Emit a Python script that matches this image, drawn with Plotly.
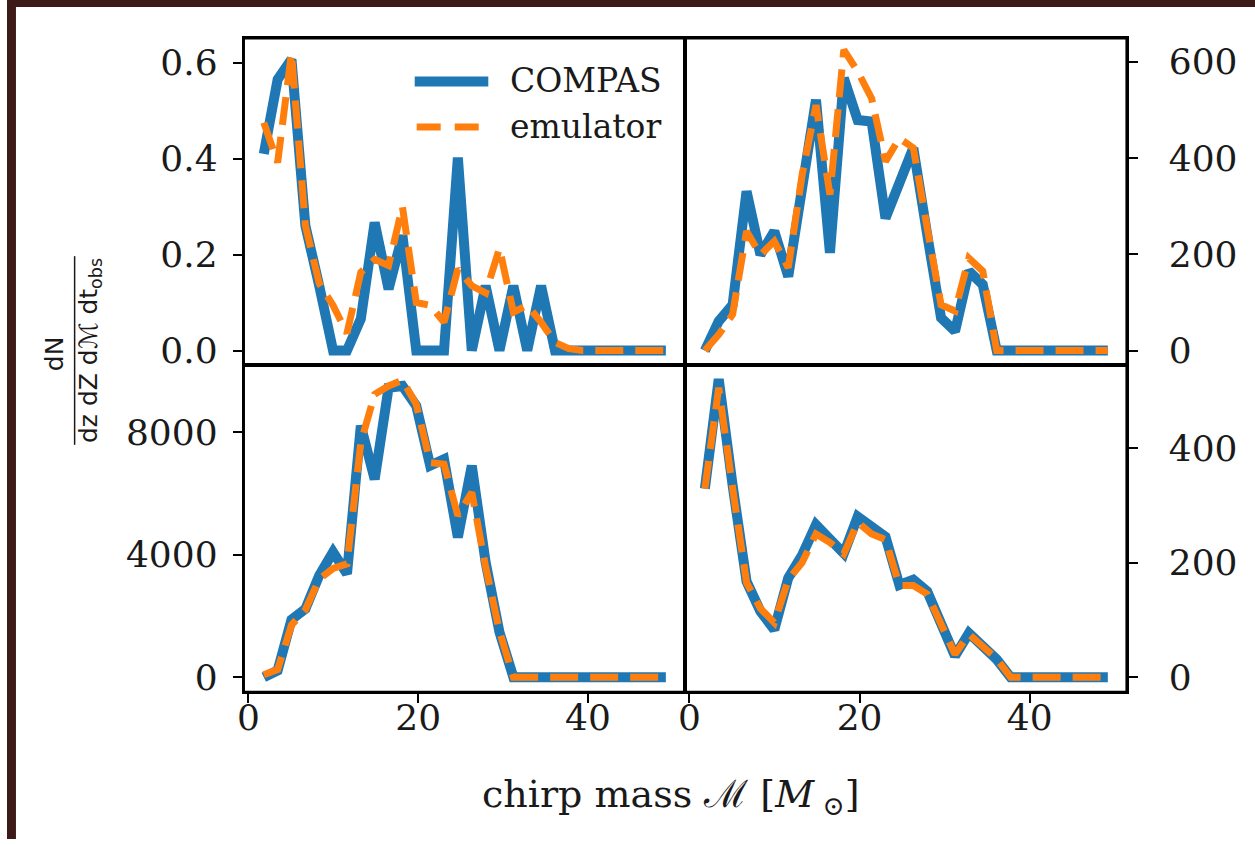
import plotly.graph_objects as go

W, H = 1255, 845

# chirp mass bin centres
chirp_mass = [1.82, 3.45, 5.08, 6.72, 8.35, 9.98, 11.62, 13.25, 14.88, 16.52,
              18.15, 19.78, 21.42, 23.05, 24.68, 26.32, 27.95, 29.58, 31.22, 32.85,
              34.48, 36.12, 37.75, 39.38, 41.02, 42.65, 44.28, 45.92, 47.55, 49.18]

# top-left panel
tl_compas = [0.41, 0.565, 0.607, 0.26, 0.135, 0.0, 0.0, 0.066, 0.267, 0.128,
             0.24, 0.0, 0.0, 0.0, 0.402, 0.0, 0.135, 0.0, 0.135, 0.0,
             0.135, 0.0, 0.0, 0.0, 0.0, 0.0, 0.0, 0.0, 0.0, 0.0]
tl_emulator = [0.475, 0.392, 0.62, 0.26, 0.14, 0.094, 0.036, 0.163, 0.19, 0.177,
               0.30, 0.10, 0.094, 0.059, 0.17, 0.135, 0.12, 0.213, 0.08, 0.094,
               0.059, 0.017, 0.004, 0.0, 0.0, 0.0, 0.0, 0.0, 0.0, 0.0]

# top-right panel
tr_compas = [0, 61, 95, 331, 199, 248, 154, 344, 521, 203,
             566, 479, 476, 275, 345, 421, 241, 68, 40, 165,
             137, 0, 0, 0, 0, 0, 0, 0, 0, 0]
tr_emulator = [0, 33, 75, 248, 199, 227, 172, 365, 510, 324,
               625, 580, 524, 393, 441, 421, 255, 95, 82, 192,
               165, 0, 0, 0, 0, 0, 0, 0, 0, 0]

# bottom-left panel
bl_compas = [0, 220, 1880, 2230, 3320, 4080, 3370, 8200, 6460, 9440,
             9500, 8850, 6900, 7110, 4560, 6900, 3750, 1470, 0, 0,
             0, 0, 0, 0, 0, 0, 0, 0, 0, 0]
bl_emulator = [80, 250, 1700, 2200, 3200, 3550, 3700, 7650, 9230, 9500,
               9690, 8900, 7000, 6950, 5270, 6030, 3600, 1500, 0, 0,
               0, 0, 0, 0, 0, 0, 0, 0, 0, 0]

# bottom-right panel
br_compas = [329, 520, 335, 167, 115, 83, 173, 213, 266, 240,
             216, 280, 260, 245, 161, 170, 150, 97, 37, 77,
             54, 31, 0, 0, 0, 0, 0, 0, 0, 0]
br_emulator = [329, 505, 330, 165, 120, 95, 170, 200, 250, 235,
               215, 270, 250, 240, 160, 160, 145, 95, 40, 75,
               55, 32, 0, 0, 0, 0, 0, 0, 0, 0]

x_ticks = [0, 20, 40]
tl_ticks = [0.0, 0.2, 0.4, 0.6]
tr_ticks = [0, 200, 400, 600]
bl_ticks = [0, 4000, 8000]
br_ticks = [0, 200, 400]

BLUE = "#1f77b4"
ORANGE = "#ff7f0e"
SERIF = "DejaVu Serif"
SANS = "DejaVu Sans"
INK = "#1a1a1a"


def fx(p):
    return p / W


def fy(p):
    return 1 - p / H


L0, LM, R1 = 238, 681.5, 1126
T0, TM, B1 = 38.5, 368, 697

fig = go.Figure()

panels = [
    ("x", "y", tl_compas, tl_emulator),
    ("x2", "y2", tr_compas, tr_emulator),
    ("x3", "y3", bl_compas, bl_emulator),
    ("x4", "y4", br_compas, br_emulator),
]
for xa, ya, comp, emu in panels:
    fig.add_trace(go.Scatter(x=chirp_mass, y=comp, mode="lines", xaxis=xa, yaxis=ya,
                             line=dict(color=BLUE, width=10), name="COMPAS",
                             showlegend=False))
    fig.add_trace(go.Scatter(x=chirp_mass, y=emu, mode="lines", xaxis=xa, yaxis=ya,
                             line=dict(color=ORANGE, width=7, dash="28px,12px"),
                             name="emulator", showlegend=False))

tickfont = dict(family=SERIF, size=36, color=INK)
common_x = dict(range=[-0.55, 51.4], showline=True, mirror=True, linecolor="black",
                linewidth=1.8, showgrid=False, zeroline=False, tickvals=x_ticks,
                tickfont=tickfont, ticklen=9, tickwidth=2, tickcolor="black")
common_y = dict(showline=True, mirror=True, linecolor="black", linewidth=1.8,
                showgrid=False, zeroline=False, tickfont=tickfont, ticklen=9,
                tickwidth=2, tickcolor="black", ticks="outside")

fig.update_layout(
    width=W, height=H, autosize=False,
    margin=dict(l=0, r=0, t=0, b=0),
    paper_bgcolor="white", plot_bgcolor="white",
    xaxis=dict(common_x, domain=[fx(L0), fx(LM)], anchor="y", ticks="", showticklabels=False),
    xaxis2=dict(common_x, domain=[fx(LM), fx(R1)], anchor="y2", ticks="", showticklabels=False),
    xaxis3=dict(common_x, domain=[fx(L0), fx(LM)], anchor="y3", ticks="outside",
                ticklabelstandoff=-16),
    xaxis4=dict(common_x, domain=[fx(LM), fx(R1)], anchor="y4", ticks="outside",
                ticklabelstandoff=-16),
    yaxis=dict(common_y, domain=[fy(TM), fy(T0)], anchor="x", range=[-0.031, 0.651],
               tickvals=tl_ticks, tickformat=".1f", ticklabelstandoff=8),
    yaxis2=dict(common_y, domain=[fy(TM), fy(T0)], anchor="x2", range=[-30.9, 649],
                tickvals=tr_ticks, side="right", ticklabelstandoff=24),
    yaxis3=dict(common_y, domain=[fy(B1), fy(TM)], anchor="x3", range=[-484, 10170],
                tickvals=bl_ticks, tickformat="d", ticklabelstandoff=8),
    yaxis4=dict(common_y, domain=[fy(B1), fy(TM)], anchor="x4", range=[-25.9, 544],
                tickvals=br_ticks, side="right", ticklabelstandoff=24),
)

shapes = [
    # outer frame of the 2x2 grid
    dict(type="rect", xref="paper", yref="paper", x0=fx(L0), x1=fx(R1),
         y0=fy(B1), y1=fy(T0), line=dict(color="black", width=2.6), layer="above"),
    # dark photo border
    dict(type="rect", xref="paper", yref="paper", x0=0, x1=fx(9), y0=0, y1=1,
         fillcolor="#3b1a18", line=dict(width=0), layer="above"),
    dict(type="rect", xref="paper", yref="paper", x0=0, x1=1, y0=fy(7), y1=1,
         fillcolor="#3b1a18", line=dict(width=0), layer="above"),
    # legend samples
    dict(type="line", xref="paper", yref="paper", x0=fx(410), x1=fx(484),
         y0=fy(82), y1=fy(82), line=dict(color=BLUE, width=10)),
    dict(type="line", xref="paper", yref="paper", x0=fx(412), x1=fx(484),
         y0=fy(128), y1=fy(128), line=dict(color=ORANGE, width=7, dash="24px,14px")),
    # fraction bar of y label
    dict(type="line", xref="paper", yref="paper", x0=fx(68), x1=fx(68),
         y0=fy(258), y1=fy(448), line=dict(color=INK, width=1.5)),
]
fig.update_layout(shapes=shapes)

annotations = [
    dict(text="COMPAS", x=fx(504), y=fy(81), xref="paper", yref="paper",
         xanchor="left", yanchor="middle", showarrow=False,
         font=dict(family=SERIF, size=33, color=INK)),
    dict(text="emulator", x=fx(504), y=fy(127), xref="paper", yref="paper",
         xanchor="left", yanchor="middle", showarrow=False,
         font=dict(family=SERIF, size=33, color=INK)),
    dict(text="chirp mass ℳ [<i>M</i><sub> ⊙</sub>]", x=fx(668), y=fy(802),
         xref="paper", yref="paper", xanchor="center", yanchor="middle",
         showarrow=False, font=dict(family=SERIF, size=38, color=INK)),
    dict(text="dN", x=fx(48), y=fy(356), xref="paper", yref="paper",
         xanchor="center", yanchor="middle", textangle=-90, showarrow=False,
         font=dict(family=SANS, size=25, color=INK)),
    dict(text="dz dZ dℳ dt<sub>obs</sub>", x=fx(84), y=fy(353), xref="paper",
         yref="paper", xanchor="center", yanchor="middle", textangle=-90,
         showarrow=False, font=dict(family=SANS, size=25, color=INK)),
]
fig.update_layout(annotations=annotations)

fig.write_html("out.html")
